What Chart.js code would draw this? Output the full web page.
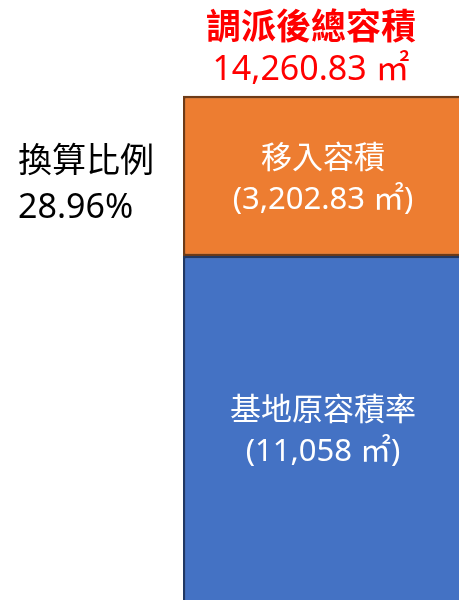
<!DOCTYPE html>
<html>
<head>
<meta charset="utf-8">
<script src="https://cdn.jsdelivr.net/npm/chart.js@4"></script>
<style>
  html, body { margin: 0; padding: 0; background: #fff; overflow: hidden; }
  canvas { display: block; }
</style>
</head>
<body>
<canvas id="chart" width="464" height="600"></canvas>
<script>
// datos
const categories = ["容積"];
const seriesNames = ["基地原容積率", "移入容積"];
const baseArea = [11058];
const transferArea = [3202.83];
const totalTitle = "調派後總容積";
const ratioTitle = "換算比例";
const ratioText = "28.96%";
const unit = "㎡";

const FONT = "'Noto Sans', 'Noto Sans CJK TC', sans-serif";

const fmt = (v) => v.toLocaleString("en-US", { maximumFractionDigits: 2 });

// etiquetas dentro y encima de la barra
const labelPlugin = {
    id: "labelPlugin",
    afterDatasetsDraw(chart) {
        const ctx = chart.ctx;
        const area = chart.chartArea;
        const visRight = 459;
        ctx.save();
        ctx.textAlign = "center";
        ctx.textBaseline = "middle";

        chart.data.datasets.forEach((ds, i) => {
            const bar = chart.getDatasetMeta(i).data[0];
            const left = bar.x - bar.width / 2;
            const cx = (left + visRight) / 2 + 2;
            const top = Math.min(bar.y, bar.base);
            const bottom = Math.min(Math.max(bar.y, bar.base), area.bottom);
            const cy = (top + bottom) / 2 + 3;
            ctx.fillStyle = "#ffffff";
            ctx.font = "31px " + FONT;
            ctx.fillText(ds.label, cx, cy - 20);
            ctx.fillText("(" + fmt(ds.data[0]) + " " + unit + ")", cx, cy + 21);
        });

        // total arriba
        const topBar = chart.getDatasetMeta(1).data[0];
        const total = baseArea[0] + transferArea[0];
        const tx = 311;
        ctx.fillStyle = "#ff0000";
        ctx.font = "bold 35px " + FONT;
        ctx.fillText(totalTitle, tx, topBar.y - 67);
        ctx.font = "34px " + FONT;
        ctx.fillText(fmt(total) + " " + unit, tx, topBar.y - 26);

        // proporción a la izquierda
        ctx.textAlign = "left";
        ctx.fillStyle = "#000000";
        ctx.font = "34px " + FONT;
        ctx.fillText(ratioTitle, 18, 162);
        ctx.fillText(ratioText, 18, 208);
        ctx.restore();
    }
};

new Chart(document.getElementById("chart"), {
    type: "bar",
    data: {
        labels: categories,
        datasets: [
            {
                label: seriesNames[0],
                data: baseArea,
                backgroundColor: "#4472C4",
                borderColor: "#203864",
                borderWidth: 2.5,
                borderSkipped: false
            },
            {
                label: seriesNames[1],
                data: transferArea,
                backgroundColor: "#ED7D31",
                borderColor: "#6e3b17",
                borderWidth: 2.5,
                borderSkipped: false
            }
        ]
    },
    options: {
        responsive: false,
        animation: false,
        devicePixelRatio: 1,
        layout: { padding: { left: 183, right: 0, top: 0, bottom: 0 } },
        datasets: { bar: { barPercentage: 1, categoryPercentage: 1 } },
        plugins: {
            legend: { display: false },
            tooltip: { enabled: false }
        },
        scales: {
            x: { stacked: true, display: false },
            y: { stacked: true, display: false, min: 4172, max: 16183 }
        }
    },
    plugins: [labelPlugin]
});
</script>
</body>
</html>
